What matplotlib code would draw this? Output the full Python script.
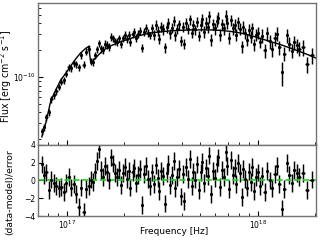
import numpy as np
import matplotlib
matplotlib.use('Agg')
import matplotlib.pyplot as plt
from matplotlib.ticker import NullFormatter

# frequency of each bin, units of 1e17 Hz
freq = [0.741, 0.759, 0.782, 0.806, 0.830, 0.856, 0.882, 0.908, 0.936, 0.965,
        0.994, 1.024, 1.055, 1.088, 1.121, 1.155, 1.190, 1.226, 1.264, 1.302, 1.334,
        1.366, 1.400, 1.434, 1.468, 1.504, 1.541, 1.578, 1.617, 1.656, 1.696,
        1.737, 1.780, 1.823, 1.867, 1.912, 1.959, 2.006, 2.055, 2.105, 2.156,
        2.209, 2.262, 2.317, 2.374, 2.431, 2.490, 2.551, 2.613, 2.676, 2.741,
        2.801, 2.862, 2.924, 2.988, 3.053, 3.120, 3.188, 3.257, 3.328, 3.401,
        3.475, 3.551, 3.628, 3.707, 3.788, 3.871, 3.955, 4.041, 4.130, 4.220,
        4.312, 4.406, 4.502, 4.600, 4.700, 4.803, 4.907, 5.014, 5.124, 5.235,
        5.350, 5.466, 5.585, 5.707, 5.832, 5.959, 6.089, 6.222, 6.357, 6.496,
        6.638, 6.783, 6.931, 7.082, 7.236, 7.394, 7.555, 7.720, 7.888, 8.060,
        8.236, 8.415, 8.599, 8.787, 8.978, 9.174, 9.374, 9.579, 9.788, 10.00, 10.22,
        10.53, 10.85, 11.18, 11.52, 11.87, 12.23, 12.60, 12.98, 13.38, 13.78,
        14.20, 14.63, 15.08, 15.54, 16.01, 16.49,
        17.30, 18.15, 19.10]

# observed flux, units of 1e-10 erg/cm2/s
flux = [0.246, 0.272, 0.354, 0.400, 0.561, 0.627, 0.695, 0.773, 0.884, 0.911,
        1.090, 1.278, 1.258, 1.433, 1.401, 1.280, 1.748, 1.369, 1.918, 2.081, 1.487,
        1.483, 1.752, 2.047, 2.385, 2.084, 2.020, 2.347, 2.286, 2.164, 2.810,
        2.711, 2.512, 2.469, 2.713, 2.347, 2.719, 2.951, 2.666, 2.955, 2.493,
        3.002, 3.190, 2.757, 3.059, 3.311, 2.137, 3.216, 3.531, 3.144, 2.933,
        3.501, 2.985, 3.862, 3.302, 2.694, 3.666, 3.433, 2.145, 3.595, 4.080,
        3.074, 3.553, 4.249, 2.924, 3.491, 3.887, 2.552, 3.644, 2.346, 4.008,
        3.448, 4.419, 3.107, 3.808, 3.414, 4.159, 2.888, 3.825, 4.432, 3.218,
        4.078, 3.623, 4.785, 2.608, 3.912, 3.502, 4.297, 4.637, 2.979, 3.911,
        3.498, 4.862, 4.056, 2.768, 4.354, 3.503, 3.860, 2.977, 4.086, 3.494,
        2.206, 3.647, 3.108, 2.625, 3.391, 2.825, 3.519, 2.323, 2.962, 3.126, 2.470,
        2.904, 2.002, 3.072, 2.514, 2.066, 2.724, 3.054, 2.157, 1.140, 1.825,
        2.961, 2.353, 1.964, 2.467, 2.266, 2.073,
        2.158, 1.393, 1.742]

# relative flux error of each bin
rel_err = [0.09, 0.09, 0.09, 0.09, 0.09, 0.09, 0.09, 0.09, 0.09, 0.09,
           0.09, 0.09, 0.09, 0.09, 0.09, 0.09, 0.09, 0.09, 0.09, 0.09, 0.09,
           0.10, 0.10, 0.10, 0.10, 0.10, 0.10, 0.10, 0.10, 0.10, 0.10,
           0.10, 0.10, 0.10, 0.10, 0.10, 0.10, 0.10, 0.10, 0.10, 0.10,
           0.10, 0.10, 0.10, 0.10, 0.10, 0.10, 0.10, 0.10, 0.10, 0.10,
           0.13, 0.13, 0.13, 0.13, 0.13, 0.13, 0.13, 0.13, 0.13, 0.13,
           0.13, 0.13, 0.13, 0.13, 0.13, 0.13, 0.13, 0.13, 0.13, 0.13,
           0.13, 0.13, 0.13, 0.13, 0.13, 0.13, 0.13, 0.15, 0.15, 0.15,
           0.15, 0.15, 0.15, 0.15, 0.15, 0.15, 0.15, 0.15, 0.15, 0.15,
           0.15, 0.15, 0.15, 0.15, 0.15, 0.15, 0.15, 0.15, 0.15, 0.15,
           0.15, 0.15, 0.15, 0.15, 0.15, 0.15, 0.15, 0.15, 0.15, 0.15, 0.15,
           0.18, 0.18, 0.18, 0.18, 0.18, 0.18, 0.18, 0.18, 0.30, 0.18,
           0.18, 0.18, 0.18, 0.18, 0.18, 0.18,
           0.20, 0.20, 0.20]

# (data-model)/error
resid = [1.8, 0.6, 0.9, -1.1, 0.1, -0.3, -0.6, -0.9, -0.7, -1.3,
         -0.3, 0.4, -0.8, -0.4, -1.5, -3.0, -0.8, -3.5, -1.0, -0.6, 0.1,
         -0.2, 1.0, 2.2, 3.5, 1.2, 0.4, 1.6, 0.9, 0.0, 2.6,
         1.9, 0.8, 0.4, 1.2, -0.5, 0.8, 1.5, 0.2, 1.1, -0.8,
         0.9, 1.4, -0.3, 0.6, 1.3, -2.8, 0.7, 1.6, 0.2, -0.6,
         0.9, -0.4, 1.7, 0.3, -1.2, 1.1, 0.5, -2.6, 0.8, 1.9,
         -0.5, 0.6, 2.2, -0.9, 0.4, 1.3, -1.8, 0.7, -2.3, 1.5,
         0.2, 2.4, -0.6, 1.0, 0.1, 1.8, -1.1, 0.9, 2.1, -0.3,
         1.4, 0.5, 2.8, -1.5, 1.1, 0.3, 1.9, 2.6, -0.7, 1.2,
         0.4, 3.2, 1.6, -1.0, 2.3, 0.6, 1.4, -0.4, 2.0, 0.8,
         -1.9, 1.3, 0.2, -0.8, 1.0, -0.2, 1.5, -1.2, 0.4, 0.9, -0.6,
         0.5, -1.3, 1.1, 0.0, -0.9, 0.7, 1.6, -0.4, -3.2, -1.0,
         2.0, 0.6, -0.3, 1.2, 0.8, 0.4,
         0.8, -1.1, 0.1]

# model curve
model_freq = [0.741, 0.777, 0.825, 0.876, 0.931, 1.000, 1.049, 1.114, 1.183, 1.256,
              1.302, 1.334, 1.366, 1.400, 1.434, 1.468, 1.504, 1.596, 1.696, 1.800,
              1.912, 2.156, 2.431, 2.741, 3.088, 3.48, 3.92, 4.42, 4.99, 5.62,
              6.34, 7.15, 8.06, 9.09, 10.24, 11.55, 13.02, 14.68, 16.55, 18.65, 20.05]
model_flux = [0.212, 0.304, 0.538, 0.714, 0.925, 1.138, 1.329, 1.593, 1.861, 2.09,
              2.20, 1.474, 1.513, 1.593, 1.678, 1.767, 1.861, 2.064, 2.23, 2.35,
              2.47, 2.71, 2.93, 3.12, 3.20, 3.29, 3.33, 3.37, 3.37, 3.37,
              3.33, 3.25, 3.12, 2.93, 2.71, 2.51, 2.32, 2.12, 1.93, 1.745, 1.635]

f = np.array(freq) * 1e17
F = np.array(flux) * 1e-10
Ferr = F * np.array(rel_err)
mf = np.array(model_freq) * 1e17
mF = np.array(model_flux) * 1e-10

# bin half widths from neighbouring bins
mid = np.sqrt(f[1:] * f[:-1])
lo = np.concatenate([[f[0] ** 2 / mid[0]], mid])
hi = np.concatenate([mid, [f[-1] ** 2 / mid[-1]]])
xerr = [f - lo, hi - f]

fig = plt.figure(figsize=(3.2, 2.4), dpi=100)
ax1 = fig.add_axes([0.119, 0.396, 0.869, 0.592])
ax2 = fig.add_axes([0.119, 0.100, 0.869, 0.296], sharex=ax1)

ax1.errorbar(f, F, yerr=Ferr, xerr=xerr, fmt='.', color='k', ms=2.5,
             elinewidth=1.05, capsize=0)
ax1.plot(mf, mF, color='k', lw=1.0)
ax1.set_xscale('log')
ax1.set_yscale('log')
ax1.set_xlim(7.08e16, 2.02e18)
ax1.set_ylim(1.72e-11, 6.78e-10)
lab1 = ax1.set_ylabel('Flux [erg cm$^{-2}$ s$^{-1}$]', fontsize=6.5)
ax1.tick_params(labelbottom=False)

ax2.errorbar(f, resid, yerr=1.0, xerr=xerr, fmt='.', color='k', ms=2.5,
             elinewidth=1.05, capsize=0)
ax2.axhline(0, color='#11dd11', ls='--', lw=1.2)
ax2.set_ylim(-4, 4)
ax2.set_yticks([-4, -2, 0, 2, 4])
lab2 = ax2.set_ylabel('(data-model)/error', fontsize=6.5)
ax2.set_xlabel('Frequency [Hz]', fontsize=6.5)
ax2.xaxis.set_label_coords(0.49, -0.15)

for ax in (ax1, ax2):
    ax.tick_params(which='both', direction='in', labelsize=5.5, top=False, right=False)
    ax.tick_params(which='major', length=3.5, pad=2)
    ax.tick_params(which='minor', length=2)
    ax.xaxis.set_minor_formatter(NullFormatter())
    for s in ax.spines.values():
        s.set_color('0.45')
        s.set_linewidth(1.0)
ax1.yaxis.set_minor_formatter(NullFormatter())

# size the y labels to the lengths seen in the reference (pixels)
fig.canvas.draw()
r = fig.canvas.get_renderer()
for lab, target in ((lab1, 93.0), (lab2, 86.0)):
    h = lab.get_window_extent(r).height
    lab.set_fontsize(min(7.0, lab.get_fontsize() * target / h))

# place label centres: right edge ~ 14 px, y ~ 77 px and 192 px from the top
ax1.yaxis.set_label_coords(-0.087, (145 - 77) / 142.0)
ax2.yaxis.set_label_coords(-0.087, (216 - 192) / 71.0)

fig.savefig('out.png', dpi=100)
